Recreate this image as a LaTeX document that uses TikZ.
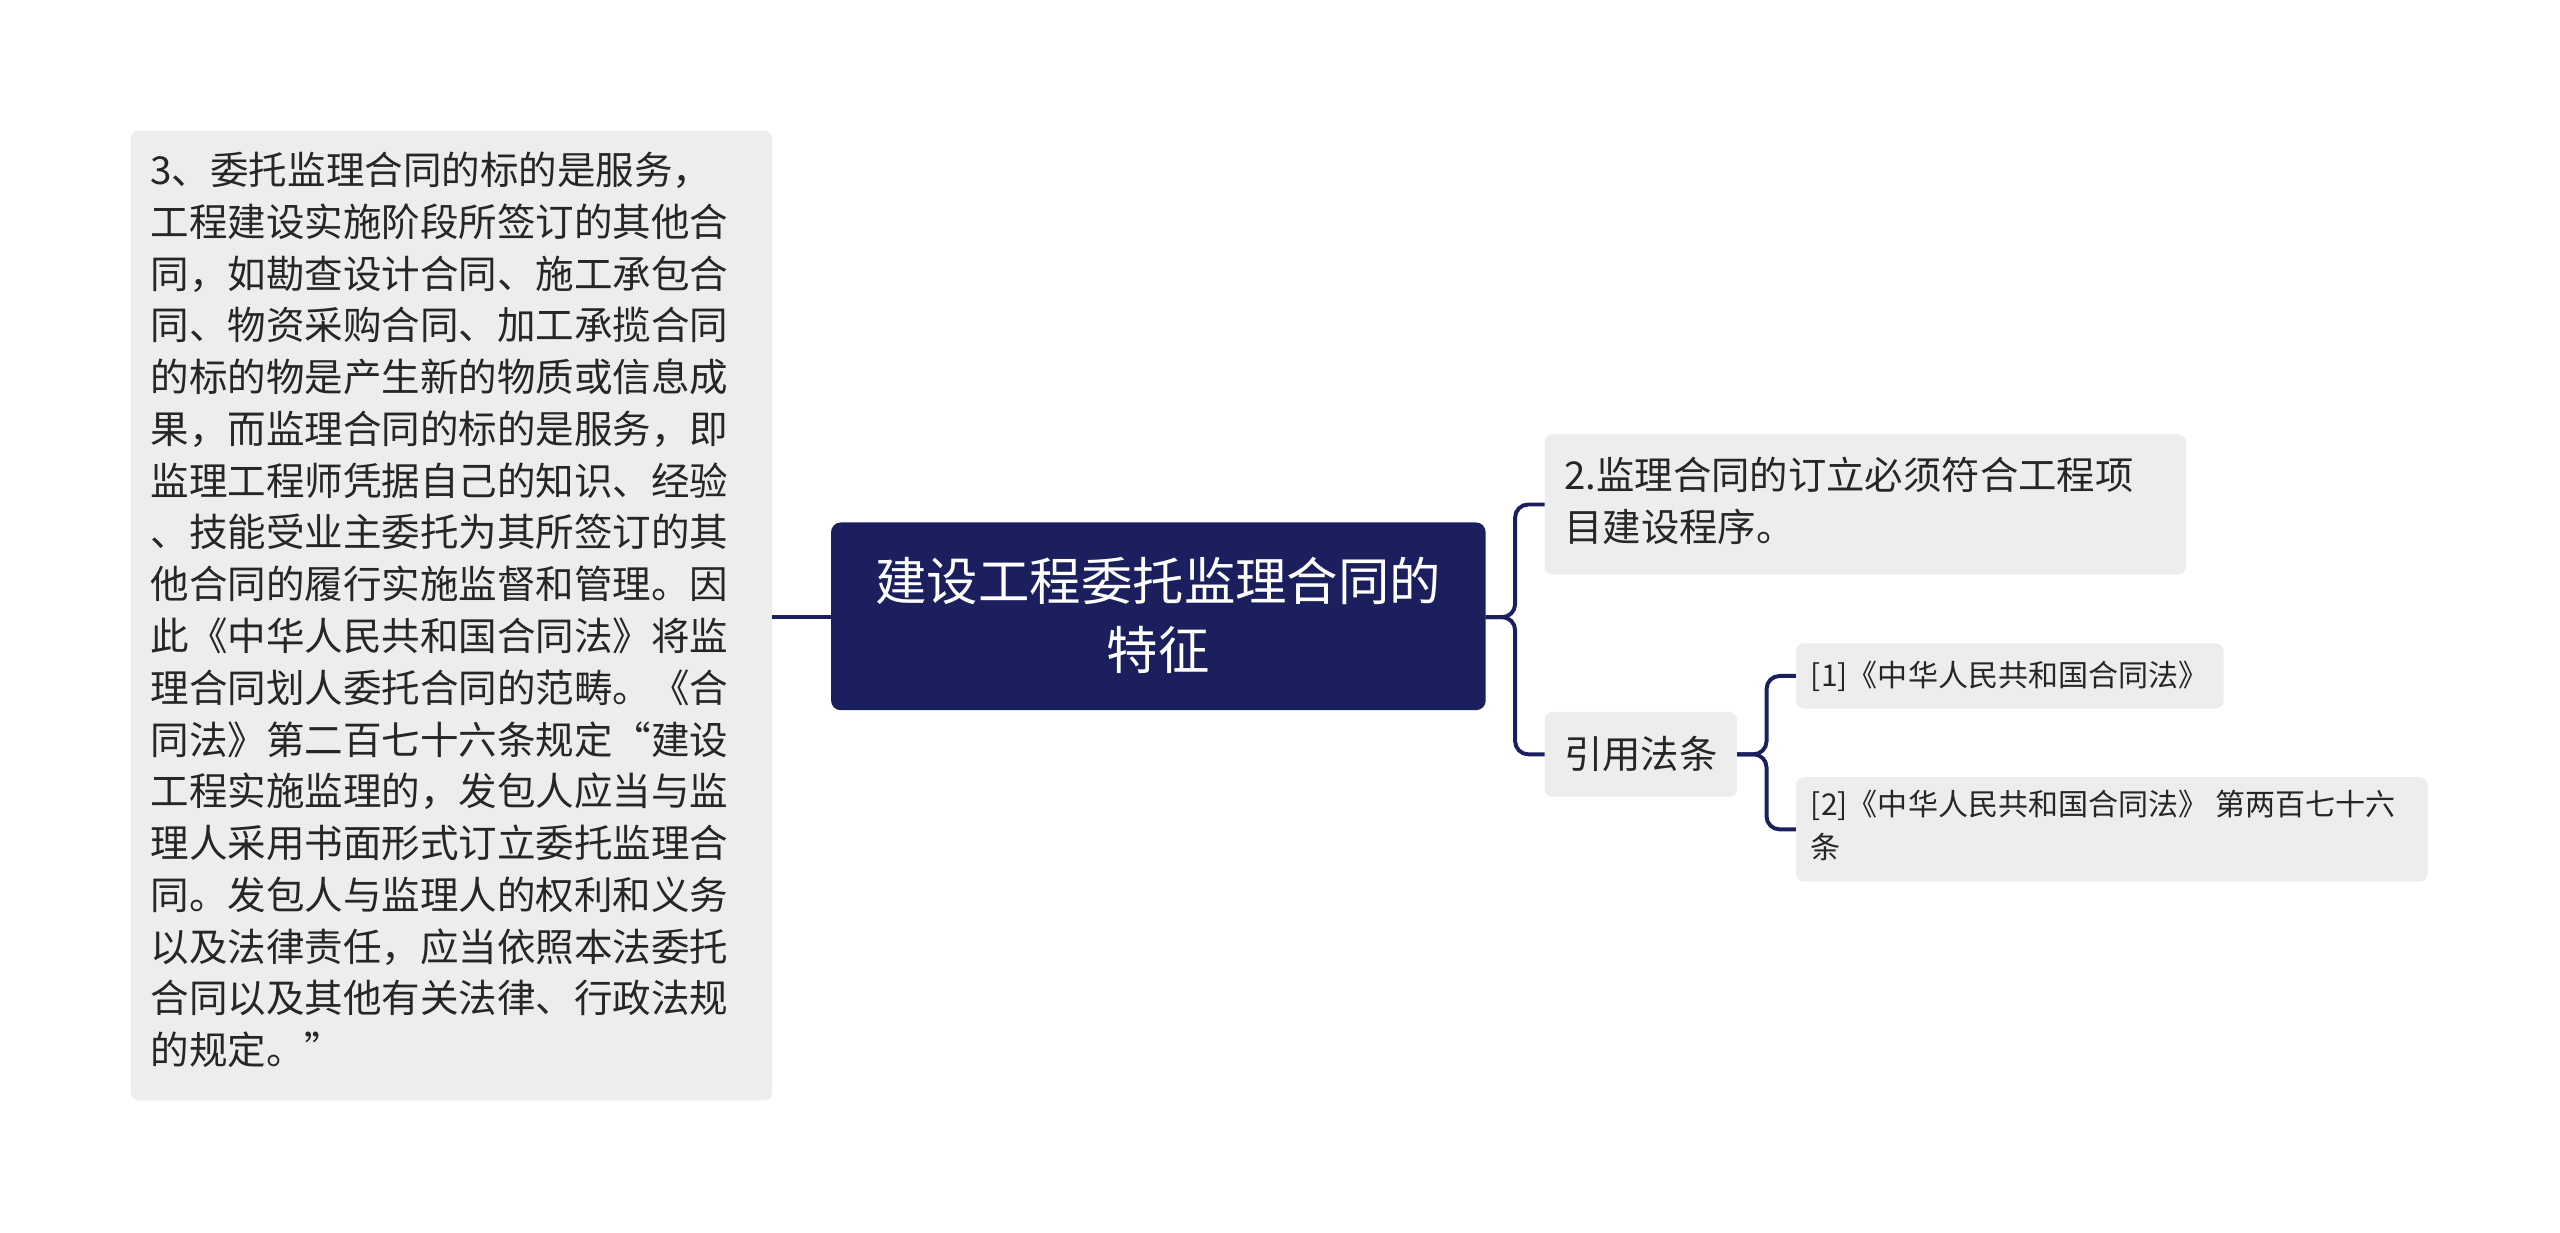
\documentclass[tikz,border=0pt]{standalone}
\usepackage{fontspec}
\setmainfont{Noto Sans CJK SC}
\begin{document}
\begin{tikzpicture}[x=1pt,y=-1pt,
  leaf/.style={fill=gray!14,rounded corners=5pt,inner sep=0pt},
  conn/.style={draw=navy,line width=2.4pt,rounded corners=8pt},
  txt/.style={anchor=north west,inner sep=0pt,align=left,text=black!85}]
\definecolor{navy}{HTML}{1B1F5E}
\useasboundingbox (0,0) rectangle (1568,755);
% left box
\path[leaf] (80,80) rectangle (473,674);
\node[txt,font=\fontsize{23.6}{31.7}\selectfont] (L) at (92,93) {3、委托监理合同的标的是服务，\\工程建设实施阶段所签订的其他合\\同，如勘查设计合同、施工承包合\\同、物资采购合同、加工承揽合同\\的标的物是产生新的物质或信息成\\果，而监理合同的标的是服务，即\\监理工程师凭据自己的知识、经验\\、技能受业主委托为其所签订的其\\他合同的履行实施监督和管理。因\\此《中华人民共和国合同法》将监\\理合同划人委托合同的范畴。《合\\同法》第二百七十六条规定“建设\\工程实施监理的，发包人应当与监\\理人采用书面形式订立委托监理合\\同。发包人与监理人的权利和义务\\以及法律责任，应当依照本法委托\\合同以及其他有关法律、行政法规\\的规定。”};
\coordinate (Lr) at (473,378);
% center
\path[fill=navy,rounded corners=6pt] (509,320) rectangle (910,435);
\node[text=white,align=center,font=\fontsize{31.5}{42}\selectfont] (C) at (709.5,377) {建设工程委托监理合同的\\特征};
\coordinate (Cl) at (509,378);
\coordinate (Cr) at (910,378);
\draw[draw=navy,line width=2.4pt] (Lr) -- (Cl);
% right boxes
\path[leaf] (946,266) rectangle (1339,352);
\node[txt,font=\fontsize{23.5}{31.7}\selectfont] (R1) at (958,280) {2.监理合同的订立必须符合工程项\\目建设程序。};
\path[leaf] (946,436) rectangle (1064,488);
\node[font=\fontsize{23.5}{26}\selectfont,text=black!85] (R2) at (1005,462) {引用法条};
\draw[conn] (Cr) -- (928,378) |- (946,309);
\draw[conn] (Cr) -- (928,378) |- (946,462);
% sub boxes
\path[leaf] (1100,394) rectangle (1362,434);
\node[txt,anchor=west,font=\fontsize{18.4}{24}\selectfont] (S1) at (1109,414) {[1]《中华人民共和国合同法》};
\path[leaf] (1100,476) rectangle (1487,540);
\node[txt,font=\fontsize{18.4}{26}\selectfont] (S2) at (1109,484) {[2]《中华人民共和国合同法》 第两百七十六\\条};
\draw[conn] (1064,462) -- (1082,462) |- (1100,414);
\draw[conn] (1064,462) -- (1082,462) |- (1100,508);
\end{tikzpicture}
\end{document}
